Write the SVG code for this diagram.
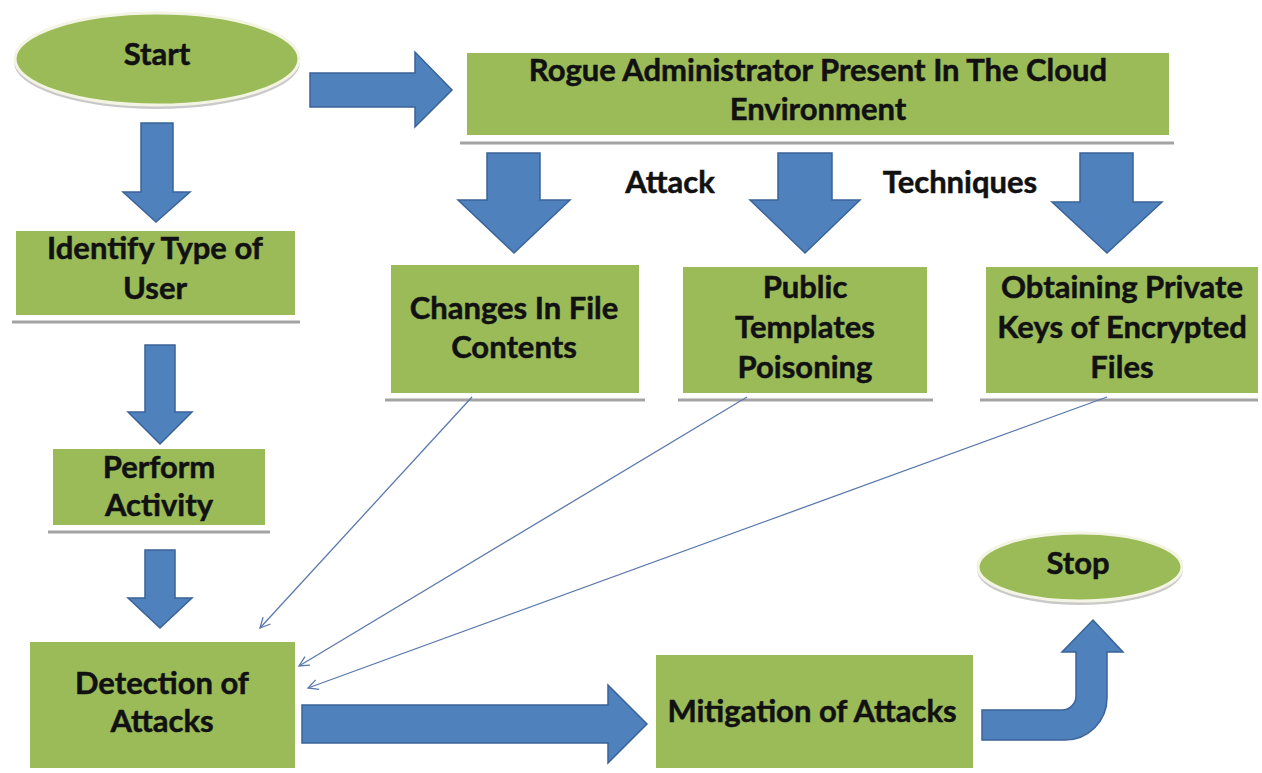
<svg xmlns="http://www.w3.org/2000/svg" width="1262" height="773" viewBox="0 0 1262 773">
<defs>
<style>
.box{fill:#9bbb59}
.ref{stroke:#a3a3a3;stroke-width:3}
.blk{fill:#4f81bd;stroke:#3a6398;stroke-width:1.5;stroke-linejoin:miter}
.t{font-family:Lato,"Liberation Sans",sans-serif;font-weight:bold;font-size:31px;fill:#111;stroke:#111;stroke-width:0.5;text-anchor:middle}
.con{stroke:#5b79ad;stroke-width:1.3;fill:none;marker-end:url(#open)}
</style>
<marker id="open" viewBox="0 0 12 12" refX="11" refY="6" markerWidth="12" markerHeight="12" markerUnits="userSpaceOnUse" orient="auto">
<path d="M1 1 L11 6 L1 11" fill="none" stroke="#5b79ad" stroke-width="1.3"/>
</marker>
</defs>
<rect width="1262" height="773" fill="#ffffff"/>

<g id="start">
<ellipse cx="157" cy="62" rx="143" ry="47" fill="#c9c9c9"/>
<ellipse cx="157" cy="59" rx="142" ry="46" class="box" stroke="#f4f4e4" stroke-width="3"/>
<text x="157" y="65" class="t">Start</text>
</g>

<g id="rogue">
<rect x="467" y="53" width="702" height="82" class="box"/>
<line x1="460" y1="143" x2="1174" y2="143" class="ref"/>
<text x="818" y="81" class="t">Rogue Administrator Present In The Cloud</text>
<text x="818" y="120" class="t">Environment</text>
</g>

<g id="identify">
<rect x="16" y="231" width="279" height="84" class="box"/>
<line x1="12" y1="322" x2="300" y2="322" class="ref"/>
<text x="155" y="259" class="t">Identify Type of</text>
<text x="155" y="299" class="t">User</text>
</g>

<g id="changes">
<rect x="391" y="265" width="248" height="128" class="box"/>
<line x1="385" y1="400" x2="645" y2="400" class="ref"/>
<text x="514" y="319" class="t">Changes In File</text>
<text x="514" y="358" class="t">Contents</text>
</g>

<g id="public">
<rect x="683" y="267" width="244" height="126" class="box"/>
<line x1="678" y1="400" x2="933" y2="400" class="ref"/>
<text x="805" y="298" class="t">Public</text>
<text x="805" y="338" class="t">Templates</text>
<text x="805" y="378" class="t">Poisoning</text>
</g>

<g id="obtaining">
<rect x="986" y="267" width="272" height="126" class="box"/>
<line x1="980" y1="400" x2="1258" y2="400" class="ref"/>
<text x="1122" y="298" class="t">Obtaining Private</text>
<text x="1122" y="338" class="t">Keys of Encrypted</text>
<text x="1122" y="378" class="t">Files</text>
</g>

<g id="perform">
<rect x="53" y="449" width="212" height="76" class="box"/>
<line x1="48" y1="532" x2="270" y2="532" class="ref"/>
<text x="159" y="478" class="t">Perform</text>
<text x="159" y="516" class="t">Activity</text>
</g>

<g id="detection">
<rect x="30" y="642" width="265" height="126" class="box"/>
<text x="162" y="694" class="t">Detection of</text>
<text x="162" y="732" class="t">Attacks</text>
</g>

<g id="mitigation">
<rect x="656" y="655" width="317" height="113" class="box"/>
<text x="812" y="722" class="t">Mitigation of Attacks</text>
</g>

<g id="stop">
<ellipse cx="1080" cy="570" rx="103" ry="35" fill="#c9c9c9"/>
<ellipse cx="1080" cy="567" rx="102" ry="34" class="box" stroke="#f4f4e4" stroke-width="3"/>
<text x="1078" y="574" class="t">Stop</text>
</g>

<g id="labels">
<text x="670" y="193" class="t">Attack</text>
<text x="960" y="193" class="t">Techniques</text>
</g>

<g id="connectors">
<path class="blk" d="M310 73 H415 V52 L452 90 L415 127 V107 H310 Z"/>
<path class="blk" d="M141 123 H173 V192 H190 L156 222 L123 192 H141 Z"/>
<path class="blk" d="M145 345 H175 V412 H192 L160 444 L128 412 H145 Z"/>
<path class="blk" d="M145 550 H175 V598 H192 L160 628 L128 598 H145 Z"/>
<path class="blk" d="M487 153 H540 V200 H570 L514 253 L458 200 H487 Z"/>
<path class="blk" d="M778 153 H832 V200 H860 L805 253 L750 200 H778 Z"/>
<path class="blk" d="M1080 153 H1133 V202 H1162 L1107 253 L1052 202 H1080 Z"/>
<path class="blk" d="M302 705 H608 V685 L647 724 L608 763 V743 H302 Z"/>
<path class="blk" d="M982 710 H1062 A14 14 0 0 0 1076 696 V652 H1062 L1093 620 L1123 652 H1107 V698 A42 42 0 0 1 1065 740 H982 Z"/>
<line class="con" x1="472" y1="397" x2="260" y2="628"/>
<line class="con" x1="747" y1="397" x2="299" y2="666"/>
<line class="con" x1="1107" y1="397" x2="308" y2="688"/>
</g>
</svg>
